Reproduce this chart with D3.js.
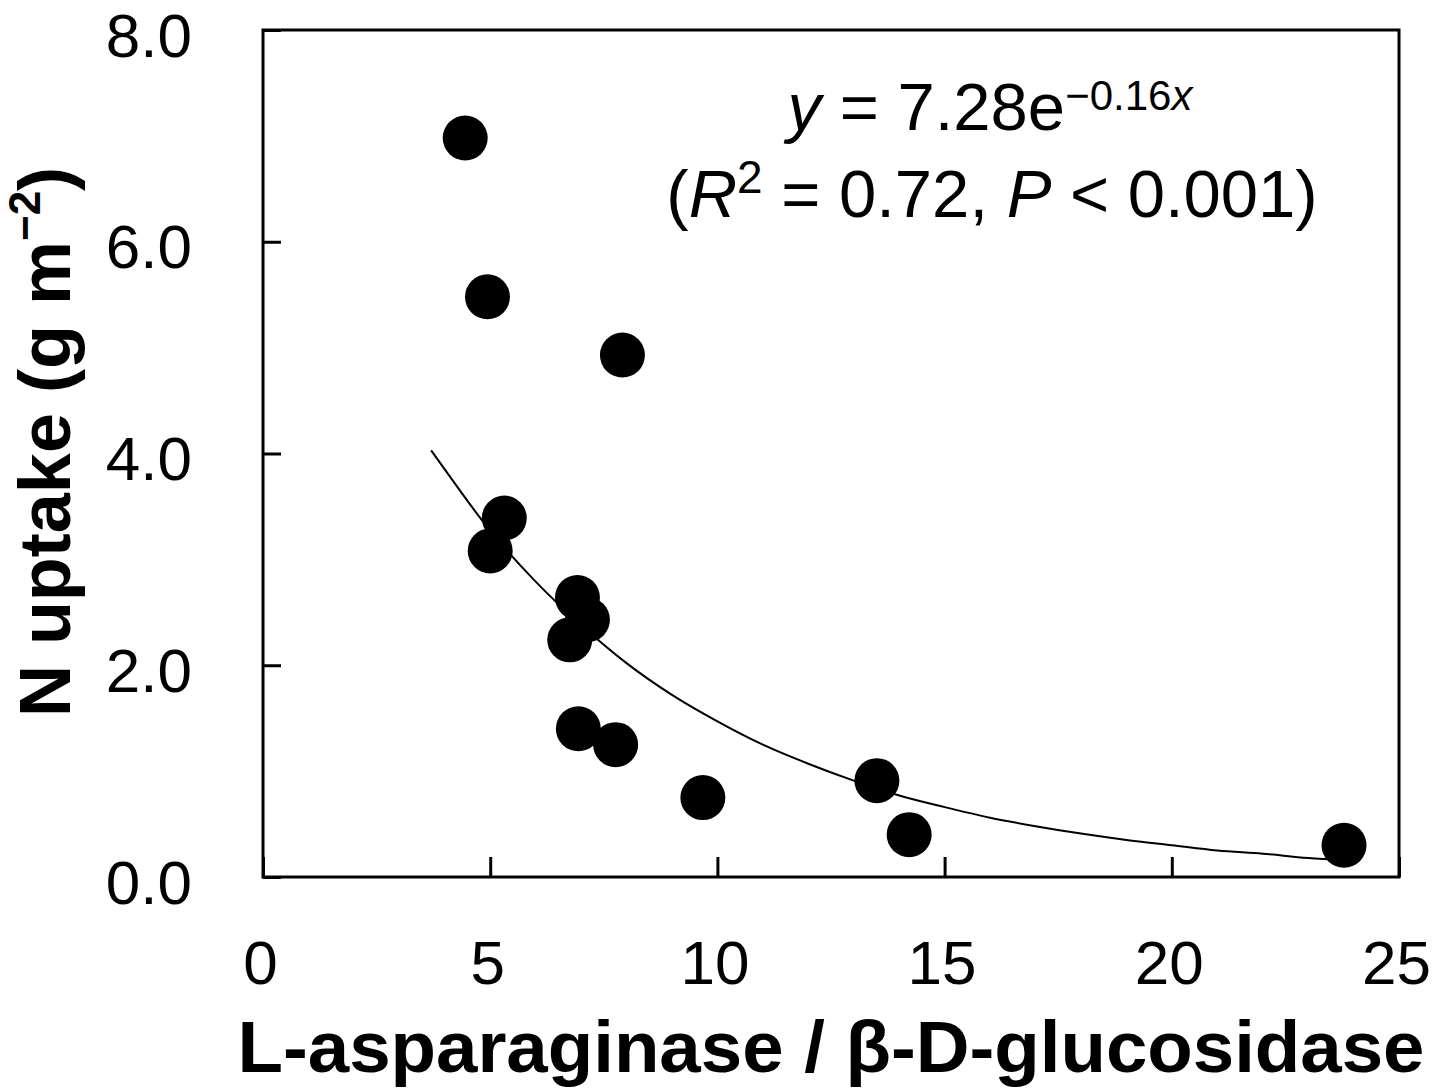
<!DOCTYPE html>
<html>
<head>
<meta charset="utf-8">
<script src="https://cdn.jsdelivr.net/npm/d3@7"></script>
<style>
  body { margin: 0; background: #fff; }
  text { font-family: "Liberation Sans", Arial, sans-serif; fill: #000; }
</style>
</head>
<body>
<svg id="svg1"></svg>
<script>
// observed points: enzyme ratio vs N uptake
var ratio  = [4.45, 4.94, 7.91, 5.31, 5.00, 6.92, 7.14, 6.75, 6.94, 7.76, 9.68, 13.51, 14.22, 23.79];
var uptake = [6.98, 5.48, 4.93, 3.39, 3.08, 2.64, 2.43, 2.24, 1.40, 1.25, 0.75, 0.91, 0.40, 0.30];

// fitted curve
var fitX = [3.7, 4, 5, 6, 7, 8, 9, 10, 11, 12, 13, 14, 15, 16, 17, 18, 19, 20, 21, 22, 23, 23.8];
var fitY = [4.03, 3.85, 3.27, 2.79, 2.38, 2.02, 1.72, 1.47, 1.25, 1.07, 0.91, 0.77, 0.66, 0.56, 0.48, 0.41, 0.35, 0.30, 0.25, 0.22, 0.18, 0.16];

var xTicks = [0, 5, 10, 15, 20, 25];
var yTicks = [0, 2, 4, 6, 8];

var W = 1451, H = 1088;
var plotL = 263, plotR = 1399, plotT = 30, plotB = 877;

var svg = d3.select('#svg1').attr('width', W).attr('height', H);

var xScale = d3.scaleLinear().domain([0, 25]).range([plotL, plotR]);
var yScale = d3.scaleLinear().domain([0, 8]).range([plotB, plotT]);

// axes (ticks point inward)
var xAxis = d3.axisBottom(xScale).tickValues(xTicks)
    .tickSizeInner(-20).tickSizeOuter(0).tickPadding(63)
    .tickFormat(d3.format('d'));
var gx = svg.append('g').attr('transform', 'translate(0,' + plotB + ')').call(xAxis);
gx.select('.domain').remove();
gx.selectAll('line').attr('stroke', '#000').attr('stroke-width', 3);
gx.selectAll('text').attr('font-size', 62).attr('font-family', '"Liberation Sans", Arial, sans-serif')
    .attr('fill', '#000').attr('dx', -3);

var yAxis = d3.axisLeft(yScale).tickValues(yTicks)
    .tickSizeInner(-18).tickSizeOuter(0).tickPadding(71)
    .tickFormat(d3.format('.1f'));
var gy = svg.append('g').attr('transform', 'translate(' + plotL + ',0)').call(yAxis);
gy.select('.domain').remove();
gy.selectAll('line').attr('stroke', '#000').attr('stroke-width', 3);
gy.selectAll('text').attr('font-size', 62).attr('font-family', '"Liberation Sans", Arial, sans-serif')
    .attr('fill', '#000').attr('dy', 26);

// frame
svg.append('rect')
    .attr('x', plotL).attr('y', plotT)
    .attr('width', plotR - plotL).attr('height', plotB - plotT)
    .attr('fill', 'none').attr('stroke', '#000').attr('stroke-width', 3);

// fitted curve
var fit = fitX.map(function(d, i) { return [d, fitY[i]]; });
var line = d3.line()
    .x(function(d) { return xScale(d[0]); })
    .y(function(d) { return yScale(d[1]); })
    .curve(d3.curveMonotoneX);
svg.append('path').datum(fit)
    .attr('d', line)
    .attr('fill', 'none').attr('stroke', '#000').attr('stroke-width', 2);

// points
var pts = ratio.map(function(d, i) { return {x: d, y: uptake[i]}; });
svg.append('g').selectAll('circle').data(pts).enter()
    .append('circle')
    .attr('cx', function(d) { return xScale(d.x); })
    .attr('cy', function(d) { return yScale(d.y); })
    .attr('r', 22.5)
    .attr('fill', '#000');

// equation
var eq1 = svg.append('text').attr('x', 990).attr('y', 130)
    .attr('text-anchor', 'middle').attr('font-size', 67);
eq1.append('tspan').attr('font-style', 'italic').text('y');
eq1.append('tspan').text(' = 7.28e');
eq1.append('tspan').attr('font-size', 42).attr('dy', -20).text('\u22120.16');
eq1.append('tspan').attr('font-size', 42).attr('font-style', 'italic').text('x');

var eq2 = svg.append('text').attr('x', 992).attr('y', 217)
    .attr('text-anchor', 'middle').attr('font-size', 67);
eq2.append('tspan').text('(');
eq2.append('tspan').attr('font-style', 'italic').text('R');
eq2.append('tspan').attr('font-size', 46).attr('dy', -24).text('2');
eq2.append('tspan').attr('dy', 24).text(' = 0.72, ');
eq2.append('tspan').attr('font-style', 'italic').text('P');
eq2.append('tspan').text(' < 0.001)');

// axis titles
svg.append('text')
    .attr('x', (plotL + plotR) / 2).attr('y', 1072)
    .attr('text-anchor', 'middle').attr('font-size', 72).attr('font-weight', 'bold')
    .attr('textLength', 1187).attr('lengthAdjust', 'spacingAndGlyphs')
    .text('L-asparaginase / \u03b2-D-glucosidase');

var yt = svg.append('text')
    .attr('transform', 'translate(70,442) rotate(-90)')
    .attr('text-anchor', 'middle').attr('font-size', 72).attr('font-weight', 'bold');
yt.append('tspan').text('N uptake (g m');
yt.append('tspan').attr('font-size', 44).attr('dy', -30).text('\u22122');
yt.append('tspan').attr('dy', 30).text(')');
</script>
</body>
</html>
